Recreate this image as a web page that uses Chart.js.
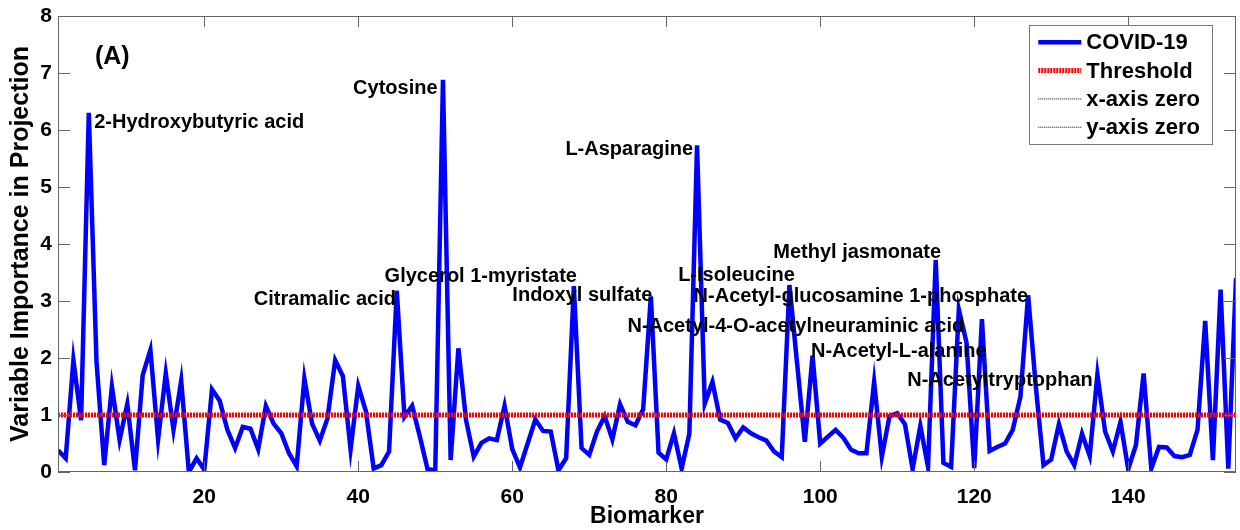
<!DOCTYPE html>
<html>
<head>
<meta charset="utf-8">
<script src="https://cdn.jsdelivr.net/npm/chart.js@4.4.1/dist/chart.umd.min.js"></script>
<style>
html, body { margin: 0; padding: 0; background: #ffffff; }
canvas { display: block; }
</style>
</head>
<body>
<canvas id="c" width="1240" height="530"></canvas>
<script>
// ---------- data ----------
const vipCovid = [
  0.38, 0.24, 1.96, 0.91, 6.30, 1.94, 0.12, 1.50, 0.56, 1.19,
  0.03, 1.70, 2.14, 0.57, 1.73, 0.74, 1.60, 0.00, 0.24, 0.04,
  1.45, 1.25, 0.74, 0.42, 0.79, 0.76, 0.40, 1.16, 0.85, 0.68,
  0.33, 0.10, 1.64, 0.85, 0.55, 0.94, 1.96, 1.68, 0.40, 1.51,
  1.06, 0.06, 0.12, 0.36, 3.18, 0.97, 1.16, 0.62, 0.05, 0.03,
  6.88, 0.21, 2.17, 0.91, 0.27, 0.51, 0.59, 0.56, 1.16, 0.40,
  0.08, 0.50, 0.92, 0.72, 0.71, 0.03, 0.24, 3.26, 0.42, 0.30,
  0.71, 0.98, 0.57, 1.19, 0.88, 0.82, 1.10, 3.08, 0.34, 0.22,
  0.68, 0.06, 0.67, 5.73, 1.20, 1.58, 0.92, 0.86, 0.59, 0.78,
  0.68, 0.61, 0.55, 0.36, 0.26, 3.28, 1.90, 0.53, 2.04, 0.50,
  0.62, 0.74, 0.60, 0.39, 0.33, 0.33, 1.58, 0.27, 0.98, 1.03,
  0.84, 0.05, 0.81, 0.09, 3.72, 0.16, 0.09, 2.85, 2.27, 0.07,
  2.68, 0.37, 0.44, 0.50, 0.74, 1.32, 3.10, 1.50, 0.12, 0.22,
  0.84, 0.36, 0.12, 0.67, 0.28, 1.71, 0.71, 0.36, 0.88, 0.05,
  0.47, 1.73, 0.06, 0.44, 0.43, 0.28, 0.26, 0.30, 0.74, 2.65,
  0.21, 3.20, 0.06, 3.40
];
const biomarkerIndex = vipCovid.map((_, i) => i + 1);
const thresholdValue = 1;
const xMin = 1, xMax = 154;
const yMin = 0, yMax = 8;
const xTickValues = [20, 40, 60, 80, 100, 120, 140];
const yTickValues = [0, 1, 2, 3, 4, 5, 6, 7, 8];
const seriesLabels = ['COVID-19', 'Threshold', 'x-axis zero', 'y-axis zero'];
const xTitle = 'Biomarker';
const yTitle = 'Variable Importance in Projection';
const panelLabel = '(A)';
const panelX = 5.8, panelY = 7.28;

const annotLabels = [
  '2-Hydroxybutyric acid', 'Cytosine', 'Citramalic acid', 'Glycerol 1-myristate',
  'Indoxyl sulfate', 'L-Asparagine', 'L-Isoleucine', 'Methyl jasmonate',
  'N-Acetyl-glucosamine 1-phosphate', 'N-Acetyl-4-O-acetylneuraminic acid',
  'N-Acetyl-L-alanine', 'N-Acetyltryptophan'
];
const annotX = [5.7, 50.3, 44.9, 68.4, 78.2, 83.5, 96.7, 115.7, 127.0, 118.7, 121.6, 135.4];
const annotY = [6.13, 6.73, 3.03, 3.43, 3.09, 5.66, 3.44, 3.85, 3.08, 2.56, 2.11, 1.61];
const annotAlign = ['left', 'right', 'right', 'right', 'right', 'right', 'right', 'right', 'right', 'right', 'right', 'right'];

// ---------- chart ----------
const FONT = '"Liberation Sans", Arial, Helvetica, sans-serif';
Chart.defaults.font.family = FONT;
Chart.defaults.color = '#000000';

const covidPoints = biomarkerIndex.map((b, i) => ({ x: b, y: vipCovid[i] }));
const thresholdPoints = [{ x: xMin, y: thresholdValue }, { x: xMax, y: thresholdValue }];
const xZeroPoints = [{ x: xMin, y: 0 }, { x: xMax, y: 0 }];
const yZeroPoints = [{ x: 0, y: yMin }, { x: 0, y: yMax }];

const framePlugin = {
  id: 'frame',
  afterDatasetsDraw(chart) {
    const { ctx, chartArea: a, scales: { x, y } } = chart;
    ctx.save();
    ctx.strokeStyle = '#666666';
    ctx.lineWidth = 1;
    ctx.beginPath();
    for (const v of yTickValues) {
      const py = Math.round(y.getPixelForValue(v)) + 0.5;
      ctx.moveTo(a.left, py); ctx.lineTo(a.left + 12, py);
      ctx.moveTo(a.right, py); ctx.lineTo(a.right - 12, py);
    }
    for (const v of xTickValues) {
      const px = Math.round(x.getPixelForValue(v)) + 0.5;
      ctx.moveTo(px, a.bottom); ctx.lineTo(px, a.bottom - 11);
      ctx.moveTo(px, a.top); ctx.lineTo(px, a.top + 11);
    }
    ctx.stroke();
    ctx.strokeRect(a.left + 0.5, a.top + 0.5, a.width - 1, a.height - 1);

    // annotations
    ctx.fillStyle = '#000000';
    ctx.textBaseline = 'middle';
    ctx.font = 'bold 20px ' + FONT;
    annotLabels.forEach((t, i) => {
      ctx.textAlign = annotAlign[i];
      ctx.fillText(t, x.getPixelForValue(annotX[i]), y.getPixelForValue(annotY[i]));
    });
    ctx.textAlign = 'left';
    ctx.font = 'bold 25px ' + FONT;
    ctx.fillText(panelLabel, x.getPixelForValue(panelX), y.getPixelForValue(panelY));
    ctx.restore();
  }
};

const legendPlugin = {
  id: 'boxLegend',
  afterDraw(chart) {
    const { ctx, chartArea: a } = chart;
    const ds = chart.data.datasets;
    ctx.save();
    ctx.font = 'bold 22px ' + FONT;
    let maxW = 0;
    ds.forEach(d => { maxW = Math.max(maxW, ctx.measureText(d.label).width); });
    const w = 57 + maxW + 12;
    const rowH = 28.3;
    const h = 119;
    const right = a.right - 24;
    const left = right - w;
    const top = a.top + 9;
    ctx.fillStyle = '#ffffff';
    ctx.fillRect(left, top, w, h);
    ctx.strokeStyle = '#777777';
    ctx.lineWidth = 1;
    ctx.strokeRect(Math.round(left) + 0.5, Math.round(top) + 0.5, Math.round(w), Math.round(h));
    ds.forEach((d, i) => {
      const cy = top + 17.3 + i * rowH;
      ctx.beginPath();
      ctx.strokeStyle = d.borderColor;
      ctx.lineWidth = d.borderWidth;
      ctx.setLineDash(d.borderDash || []);
      ctx.moveTo(left + 9, cy);
      ctx.lineTo(left + 52, cy);
      ctx.stroke();
      ctx.setLineDash([]);
      ctx.fillStyle = '#000000';
      ctx.textAlign = 'left';
      ctx.textBaseline = 'middle';
      ctx.fillText(d.label, left + 57, cy + 1);
    });
    ctx.restore();
  }
};

new Chart(document.getElementById('c'), {
  type: 'line',
  data: {
    datasets: [
      { label: seriesLabels[0], data: covidPoints, borderColor: '#0000ff', borderWidth: 4.5,
        pointRadius: 0, tension: 0, fill: false, order: 2, borderJoinStyle: 'miter' },
      { label: seriesLabels[1], data: thresholdPoints, borderColor: '#ff0000', borderWidth: 5,
        borderDash: [2, 1], pointRadius: 0, fill: false, order: 1 },
      { label: seriesLabels[2], data: xZeroPoints, borderColor: '#000000', borderWidth: 1,
        borderDash: [1, 1], pointRadius: 0, fill: false, order: 0 },
      { label: seriesLabels[3], data: yZeroPoints, borderColor: '#000000', borderWidth: 1,
        borderDash: [1, 1], pointRadius: 0, fill: false, order: 0 }
    ]
  },
  options: {
    responsive: false,
    animation: false,
    devicePixelRatio: 1,
    layout: { padding: { top: 16, right: 4, bottom: 0, left: 0 } },
    plugins: { legend: { display: false }, tooltip: { enabled: false }, title: { display: false } },
    scales: {
      x: {
        type: 'linear', min: xMin, max: xMax, position: 'bottom',
        afterBuildTicks: s => { s.ticks = xTickValues.map(v => ({ value: v })); },
        afterFit: s => { s.height = 58; s.paddingLeft = 0; s.paddingRight = 0; },
        grid: { display: false, drawTicks: false },
        border: { display: false },
        ticks: { font: { size: 21, weight: 'bold' }, color: '#000000', padding: 13, maxRotation: 0 },
        title: { display: true, text: xTitle, font: { size: 23, weight: 'bold' }, color: '#000000', padding: { top: 0, bottom: 0 } }
      },
      y: {
        type: 'linear', min: yMin, max: yMax, position: 'left',
        afterBuildTicks: s => { s.ticks = yTickValues.map(v => ({ value: v })); },
        afterFit: s => { s.width = 58; s.paddingTop = 0; s.paddingBottom = 0; },
        grid: { display: false, drawTicks: false },
        border: { display: false },
        ticks: { font: { size: 21, weight: 'bold' }, color: '#000000', padding: 6 },
        title: { display: true, text: yTitle, font: { size: 25, weight: 'bold' }, color: '#000000', padding: { top: 6, bottom: 0 } }
      }
    }
  },
  plugins: [framePlugin, legendPlugin]
});
</script>
</body>
</html>
